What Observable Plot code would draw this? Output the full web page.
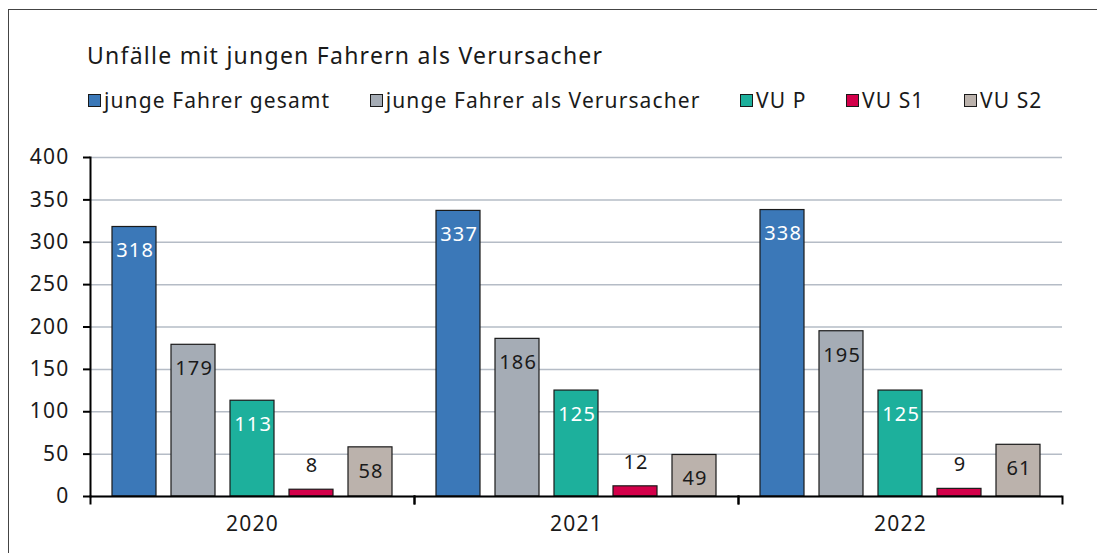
<!DOCTYPE html>
<html>
<head>
<meta charset="utf-8">
<script src="https://cdn.jsdelivr.net/npm/d3@7"></script>
<script src="https://cdn.jsdelivr.net/npm/@observablehq/plot@0.6"></script>
<style>
  html, body { margin: 0; padding: 0; background: #fff; overflow: hidden; }
  body { width: 1097px; height: 553px; position: relative; font-family: "Noto Sans", sans-serif; color: #1a1a1a; }
  #border { position: absolute; left: 8px; top: 9px; width: 1400px; height: 800px; border-left: 1.5px solid #444; border-top: 1.5px solid #444; pointer-events: none; }
  #title { position: relative; height: 40px; padding-top: 35px; line-height: 40px; padding-left: 87px; font-size: 23px; letter-spacing: 1.25px; white-space: nowrap; }
  #legend { position: relative; height: 51px; line-height: 51px; padding-left: 88px; font-size: 21px; letter-spacing: 1.1px; display: flex; align-items: center; white-space: nowrap; }
  .item { display: flex; align-items: center; margin-right: 39.5px; }
  .sw { width: 11px; height: 11px; border: 1px solid #1a1a1a; margin-right: 3px; }
  #chart { position: relative; }
  #chart svg text { letter-spacing: 1.2px; }
</style>
</head>
<body>
<div id="border"></div>
<div id="title"></div>
<div id="legend"></div>
<div id="chart"></div>
<script>
const titleText = "Unfälle mit jungen Fahrern als Verursacher";
const years = ["2020", "2021", "2022"];
const series = ["junge Fahrer gesamt", "junge Fahrer als Verursacher", "VU P", "VU S1", "VU S2"];
const seriesColors = ["#3b78b8", "#a5acb5", "#1db09c", "#d3004a", "#bbb2ac"];
const gesamt = [318, 337, 338];
const verursacher = [179, 186, 195];
const vuP = [113, 125, 125];
const vuS1 = [8, 12, 9];
const vuS2 = [58, 49, 61];
const yTicks = [0, 50, 100, 150, 200, 250, 300, 350, 400];

const seriesValues = [gesamt, verursacher, vuP, vuS1, vuS2];
const data = [];
years.forEach((yr, i) => {
  series.forEach((s, j) => data.push({year: yr, series: s, value: seriesValues[j][i]}));
});

document.getElementById("title").textContent = titleText;
const legend = document.getElementById("legend");
series.forEach((s, j) => {
  const it = document.createElement("div");
  it.className = "item";
  const sw = document.createElement("div");
  sw.className = "sw";
  sw.style.background = seriesColors[j];
  const tx = document.createElement("span");
  tx.textContent = s;
  it.appendChild(sw); it.appendChild(tx);
  legend.appendChild(it);
});

const H = 427, MT = 31, MB = 57;
const innerH = H - MT - MB;
const whiteLabel = new Set([series[0], series[2]]);
const outside = new Set([series[3]]);

const chart = Plot.plot({
  width: 1097,
  height: H,
  marginTop: MT,
  marginBottom: MB,
  marginLeft: 89,
  marginRight: 35,
  style: {fontFamily: "'Noto Sans', sans-serif", fontSize: "20px", color: "#1a1a1a", background: "transparent"},
  fx: {domain: years, padding: 0, label: null},
  x: {domain: series, paddingInner: 0.25, paddingOuter: 0.33, axis: null},
  y: {domain: [0, 400], label: null},
  color: {domain: series, range: seriesColors},
  marks: [
    Plot.gridY(yTicks, {stroke: "#b5bcc6", strokeOpacity: 1, strokeWidth: 1.5}),
    Plot.barY(data, {fx: "year", x: "series", y: "value", fill: "series", stroke: "#1a1a1a", strokeWidth: 1.2}),
    Plot.text(data.filter(d => whiteLabel.has(d.series)), {fx: "year", x: "series", y: "value", text: d => String(d.value), dy: 24, dx: 0.6, fill: "#ffffff", fontSize: 20}),
    Plot.text(data.filter(d => !whiteLabel.has(d.series) && !outside.has(d.series)), {fx: "year", x: "series", y: "value", text: d => String(d.value), dy: 24, dx: 0.6, fill: "#1a1a1a", fontSize: 20}),
    Plot.text(data.filter(d => outside.has(d.series)), {fx: "year", x: "series", y: "value", text: d => String(d.value), dy: -24, dx: 0.6, fill: "#1a1a1a", fontSize: 20}),
    Plot.ruleY([0], {stroke: "#000", strokeWidth: 2}),
    Plot.frame({anchor: "left", facetAnchor: "left", stroke: "#000", strokeWidth: 2}),
    Plot.frame({anchor: "left", insetTop: innerH, insetBottom: -7, stroke: "#000", strokeWidth: 2}),
    Plot.frame({anchor: "right", insetTop: innerH, insetBottom: -7, stroke: "#000", strokeWidth: 2}),
    Plot.axisY({ticks: yTicks, tickSize: 7, tickPadding: 14, fontSize: 21, stroke: "#000", strokeWidth: 2, label: null, tickFormat: d => String(d)}),
    Plot.axisFx({anchor: "bottom", tickSize: 0, tickPadding: 20, fontSize: 21, label: null})
  ]
});
document.getElementById("chart").appendChild(chart);
</script>
</body>
</html>
